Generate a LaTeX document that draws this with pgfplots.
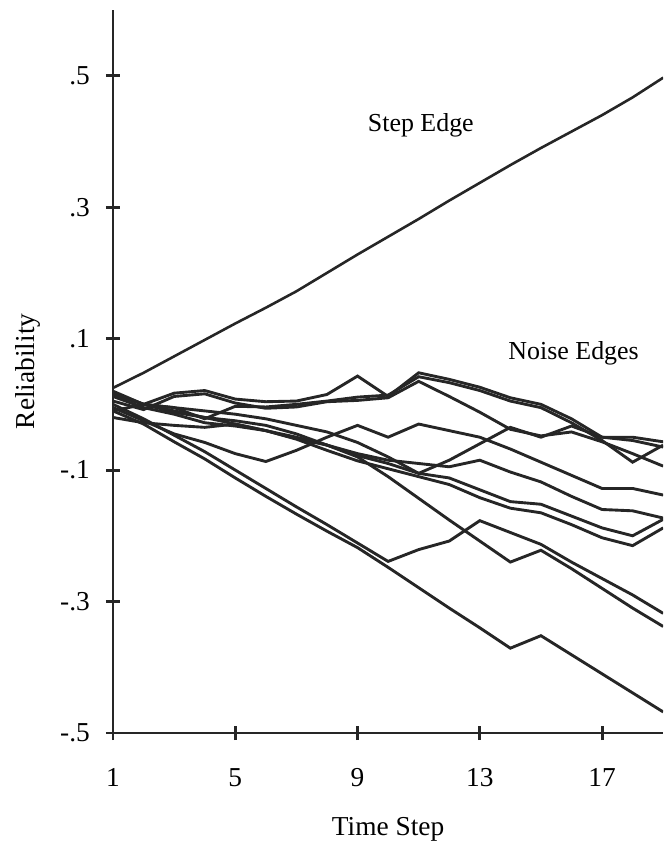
\documentclass[border=0pt]{standalone}
\usepackage{pgfplots}
\pgfplotsset{compat=1.18}
\usepackage{fontspec}
\setmainfont{Liberation Serif}
\pgfplotstableread{
x   S      A      B      C      D      E      X      G      H      I      Y      Z
1   0.025 -0.010  0.015  0.005  0.015 -0.005  0.018  0.020  0.012 -0.020  0.000 -0.010
2   0.048  0.000  0.000 -0.008  0.000 -0.025  0.000  0.000 -0.005 -0.028 -0.022 -0.030
3   0.073  0.017 -0.005  0.012 -0.005 -0.045 -0.012 -0.010 -0.015 -0.032 -0.047 -0.057
4   0.098  0.021 -0.022  0.016 -0.010 -0.058 -0.020 -0.020 -0.028 -0.035 -0.072 -0.083
5   0.123  0.008 -0.003  0.002 -0.015 -0.075 -0.030 -0.025 -0.033 -0.030 -0.100 -0.112
6   0.147  0.004 -0.004 -0.006 -0.022 -0.087 -0.040 -0.032 -0.040 -0.040 -0.128 -0.140
7   0.172  0.005  0.000 -0.004 -0.032 -0.070 -0.052 -0.045 -0.053 -0.050 -0.156 -0.167
8   0.200  0.015  0.005  0.004 -0.042 -0.050 -0.062 -0.062 -0.070 -0.062 -0.183 -0.193
9   0.228  0.043  0.011  0.006 -0.058 -0.032 -0.080 -0.078 -0.086 -0.075 -0.211 -0.218
10  0.255  0.012  0.014  0.010 -0.080 -0.050 -0.110 -0.090 -0.098 -0.085 -0.239 -0.248
11  0.282  0.048  0.042  0.035 -0.105 -0.030 -0.143 -0.105 -0.110 -0.090 -0.221 -0.279
12  0.310  0.038  0.033  0.012 -0.085 -0.040 -0.176 -0.112 -0.122 -0.095 -0.208 -0.310
13  0.337  0.026  0.021 -0.012 -0.060 -0.050 -0.208 -0.130 -0.142 -0.085 -0.177 -0.340
14  0.364  0.010  0.005 -0.038 -0.035 -0.068 -0.240 -0.148 -0.158 -0.103 -0.195 -0.371
15  0.390  0.000 -0.005 -0.048 -0.050 -0.088 -0.222 -0.152 -0.165 -0.118 -0.213 -0.352
16  0.415 -0.022 -0.028 -0.042 -0.033 -0.108 -0.250 -0.170 -0.183 -0.140 -0.240 -0.381
17  0.440 -0.050 -0.055 -0.057 -0.050 -0.128 -0.280 -0.188 -0.203 -0.160 -0.265 -0.410
18  0.467 -0.050 -0.088 -0.075 -0.055 -0.128 -0.310 -0.200 -0.215 -0.162 -0.290 -0.439
19  0.497 -0.057 -0.062 -0.094 -0.065 -0.138 -0.338 -0.175 -0.188 -0.173 -0.318 -0.468
}\data
\begin{document}
\begin{tikzpicture}
\begin{axis}[
  scale only axis, width=191pt, height=251pt,
  xmin=1, xmax=19, ymin=-0.5, ymax=0.6,
  axis x line=bottom, axis y line=left,
  axis line style={-, line width=1pt, black!85},
  xtick={1,5,9,13,17}, xticklabels={1,5,9,13,17},
  ytick={-0.5,-0.3,-0.1,0.1,0.3,0.5}, yticklabels={-.5,-.3,-.1,.1,.3,.5},
  tick align=center, major tick length=5pt,
  tick style={line width=1pt, black!85},
  ticklabel style={font=\fontsize{9.5}{11}\selectfont},
  xticklabel style={anchor=base, yshift=-16pt},
  yticklabel style={anchor=east, xshift=-2pt},
  xlabel={Time Step}, ylabel={Reliability},
  label style={font=\fontsize{9.5}{11}\selectfont},
  xlabel style={at={(axis description cs:0.5,0)}, anchor=center, yshift=-33.3pt},
  ylabel style={at={(axis description cs:0,0.5)}, anchor=center, yshift=29.5pt},
  nl/.style={black!85, line width=1pt, mark=none, solid},
]
\addplot[nl, line width=0.9pt] table[x=x,y=S] {\data};
\addplot[nl] table[x=x,y=A] {\data};
\addplot[nl] table[x=x,y=B] {\data};
\addplot[nl] table[x=x,y=C] {\data};
\addplot[nl] table[x=x,y=D] {\data};
\addplot[nl] table[x=x,y=E] {\data};
\addplot[nl] table[x=x,y=X] {\data};
\addplot[nl] table[x=x,y=G] {\data};
\addplot[nl] table[x=x,y=H] {\data};
\addplot[nl] table[x=x,y=I] {\data};
\addplot[nl] table[x=x,y=Y] {\data};
\addplot[nl] table[x=x,y=Z] {\data};
\node[font=\fontsize{9}{10}\selectfont] at (axis cs:11.07,0.425) {Step Edge};
\node[font=\fontsize{9}{10}\selectfont] at (axis cs:16.07,0.077) {Noise Edges};
\end{axis}
\pgfresetboundingbox
\path[use as bounding box] (current axis.south west) ++(-39.24pt,-39.24pt) rectangle ([yshift=3.47pt]current axis.north east);
\end{tikzpicture}
\end{document}
